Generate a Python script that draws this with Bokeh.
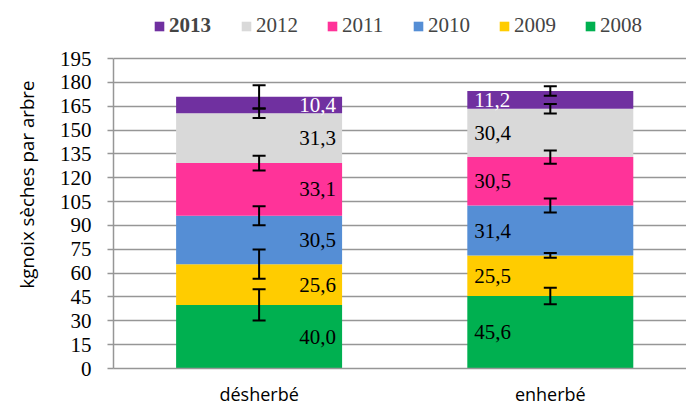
import numpy as np
from bokeh.plotting import figure
from bokeh.models import (ColumnDataSource, Range1d, FixedTicker, Legend, LegendItem,
                          Whisker, TeeHead, LinearAxis)
from bokeh.embed import file_html
from bokeh.resources import INLINE
from bokeh.core.properties import value

# ---------------- data ----------------
treatments = ["désherbé", "enherbé"]
years = ["2008", "2009", "2010", "2011", "2012", "2013"]
y2008 = [40.0, 45.6]
y2009 = [25.6, 25.5]
y2010 = [30.5, 31.4]
y2011 = [33.1, 30.5]
y2012 = [31.3, 30.4]
y2013 = [10.4, 11.2]
err_desherbe = [9.8, 9.2, 6.0, 4.7, 3.0, 7.3]
err_enherbe = [5.2, 1.5, 4.4, 4.2, 3.0, 3.0]
y_ticks = list(range(0, 196, 15))
y_title = "kgnoix sèches par arbre"

# ---------------- styles / layout ----------------
colors = ["#00B050", "#FFCC00", "#558ED5", "#FF3399", "#D9D9D9", "#7030A0"]
label_colors = ["#000000", "#000000", "#000000", "#000000", "#000000", "#FFFFFF"]
SERIF = "Liberation Serif"
SANS = "Open Sans"
GRID = "#969696"

W, H = 686, 409
LEFT, BOTTOM = 113, 41
unit_px = 291.2                 # px per category
px_per_val = 310 / 195.0        # px per y unit
frame_w = W - LEFT
frame_h = H - BOTTOM
y_axis_max = y_ticks[-1]
title_center_val = (frame_h - 232) / px_per_val   # where the y title is centred

series = [y2008, y2009, y2010, y2011, y2012, y2013]
errors = [err_desherbe, err_enherbe]
xs = [i + 0.5 for i in range(len(treatments))]
bar_w = 0.57

src = ColumnDataSource(dict(x=xs, **{yr: s for yr, s in zip(years, series)}))

p = figure(width=W, height=H, x_range=Range1d(0, frame_w / unit_px),
           y_range=Range1d(0, frame_h / px_per_val), min_border_left=LEFT,
           min_border_right=0, min_border_top=0, min_border_bottom=BOTTOM,
           output_backend="svg", toolbar_location=None)
p.outline_line_color = None
p.background_fill_color = "white"

p.xgrid.grid_line_color = None
p.ygrid.ticker = FixedTicker(ticks=y_ticks)
p.ygrid.grid_line_color = GRID
p.ygrid.grid_line_width = 1.5

rs = p.vbar_stack(years, x="x", width=bar_w, source=src, fill_color=colors,
                  line_alpha=0)

# value labels
vals = np.array(series)  # shape (years, treatments)
tops = np.cumsum(vals, axis=0)
mids = tops - vals / 2
for j, t in enumerate(treatments):
    if j == 0:
        lx = xs[j] + bar_w / 2
        align, off = "right", -6
    else:
        lx = xs[j] - bar_w / 2
        align, off = "left", 7
    ls = ColumnDataSource(dict(
        x=[lx] * len(years), y=list(mids[:, j]),
        t=[f"{v:.1f}".replace(".", ",") for v in vals[:, j]],
        c=label_colors))
    p.text(x="x", y="y", text="t", source=ls, text_color="c",
           text_align=align, text_baseline="middle", x_offset=off,
           text_font=value(SERIF), text_font_size="21px")

# error bars
ex, eu, el = [], [], []
for j in range(len(treatments)):
    for i in range(len(years)):
        ex.append(xs[j])
        eu.append(tops[i, j] + errors[j][i])
        el.append(tops[i, j] - errors[j][i])
esrc = ColumnDataSource(dict(x=ex, upper=eu, lower=el))
w = Whisker(base="x", upper="upper", lower="lower", dimension="height", source=esrc,
            level="overlay", line_width=2, line_color="black",
            upper_head=TeeHead(size=13, line_width=2, line_color="black"),
            lower_head=TeeHead(size=13, line_width=2, line_color="black"))
p.add_layout(w)

# axes
yax = p.yaxis[0]
yax.ticker = FixedTicker(ticks=y_ticks)
yax.bounds = (0, y_axis_max)
yax.minor_tick_line_color = None
yax.major_tick_in = 0
yax.major_tick_out = 6
yax.major_tick_line_color = GRID
yax.major_tick_line_width = 1.5
yax.axis_line_color = GRID
yax.axis_line_width = 1.5
yax.major_label_standoff = 16
yax.major_label_text_font = SERIF
yax.major_label_text_font_size = "21px"
yax.major_label_text_color = "black"

xax = p.xaxis[0]
xax.ticker = FixedTicker(ticks=xs)
xax.major_label_overrides = {x: t for x, t in zip(xs, treatments)}
xax.major_tick_line_color = None
xax.minor_tick_line_color = None
xax.axis_line_color = GRID
xax.axis_line_width = 1.5
xax.major_label_standoff = 7
xax.major_label_text_font = SANS
xax.major_label_text_font_size = "18px"
xax.major_label_text_color = "black"

# y title: an extra, otherwise invisible left axis carrying only the title
title_axis = LinearAxis(axis_label=y_title, bounds=(0, 2 * title_center_val),
                        ticker=FixedTicker(ticks=[]), axis_line_color=None,
                        major_tick_line_color=None, minor_tick_line_color=None,
                        major_label_text_font_size="0px",
                        axis_label_standoff=18, axis_label_text_font=SANS,
                        axis_label_text_font_size="18.7px",
                        axis_label_text_font_style="normal",
                        axis_label_text_color="black")
p.add_layout(title_axis, "left")

# legends (2013 in bold, the others regular)
common = dict(orientation="horizontal", glyph_width=12, glyph_height=12,
              label_standoff=4, padding=0, margin=0, background_fill_alpha=0,
              border_line_alpha=0, label_text_font=SERIF,
              label_text_font_size="21px", label_width=45)
leg_y = frame_h - 38
leg_a = Legend(items=[LegendItem(label=years[5], renderers=[rs[5]])],
               location=(153 - LEFT, leg_y), label_text_font_style="bold",
               spacing=0, **common)
leg_b = Legend(items=[LegendItem(label=years[i], renderers=[rs[i]]) for i in range(4, -1, -1)],
               location=(240 - LEFT, leg_y), spacing=25, **common)
p.add_layout(leg_a, "center")
p.add_layout(leg_b, "center")

open("out.html", "w").write(file_html(p, INLINE))
